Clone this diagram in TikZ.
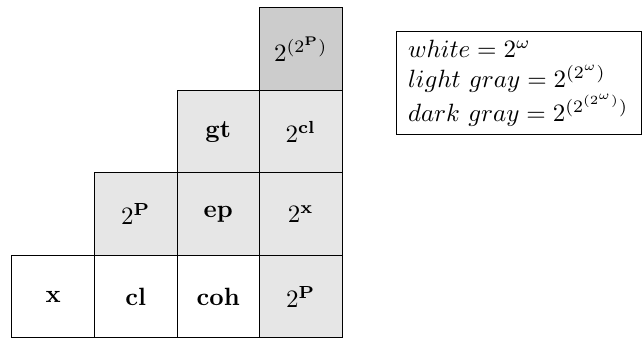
\documentclass[tikz,border=0pt]{standalone}
\usepackage{tikz}
\usetikzlibrary{positioning}
\usepackage{xcolor}
\definecolor{cell-light}{RGB}{230,230,230}
\definecolor{cell-dark}{RGB}{204,204,204}

\begin{document}
\begin{tikzpicture}[
  node distance = 0pt,
  every node/.style = {font=\normalsize},
  % Cell styles
  cell/.style      = {draw, thin, outer sep=0pt, inner sep=0pt,
                      minimum width=33pt, minimum height=33pt, align=center},
  whitecell/.style = {cell, fill=white},
  lightcell/.style = {cell, fill=cell-light},
  darkcell/.style  = {cell, fill=cell-dark},
  legendbox/.style = {draw, thin, align=left,
                      inner xsep=4.6pt, text width=88.8pt,
                      minimum height=41.2pt},
]
\useasboundingbox (-4.8pt,0pt) rectangle (252pt,135.2pt);

% ── Bottom row ─────────────────────────────────────────────────────────────────
\node[whitecell, anchor=south west] (x) at (0pt,0pt) {$\mathbf{x}$};
\node[whitecell, right=of x]   (cl)  {$\mathbf{cl}$};
\node[whitecell, right=of cl]  (coh) {$\mathbf{coh}$};
\node[lightcell, right=of coh] (pbot) {$2^{\mathbf{P}}$};

% ── Second row ─────────────────────────────────────────────────────────────────
\node[lightcell, above=of cl]   (pmid) {$2^{\mathbf{P}}$};
\node[lightcell, above=of coh]  (ep)   {$\mathbf{ep}$};
\node[lightcell, above=of pbot] (px)   {$2^{\mathbf{x}}$};

% ── Third row ──────────────────────────────────────────────────────────────────
\node[lightcell, above=of ep] (gt)  {$\mathbf{gt}$};
\node[lightcell, above=of px] (pcl) {$2^{\mathbf{cl}}$};

% ── Top row ────────────────────────────────────────────────────────────────────
\node[darkcell, above=of pcl] (ppp) {$2^{(2^{\mathbf{P}})}$};

% ── Legend ─────────────────────────────────────────────────────────────────────
\node[legendbox, anchor=north west] (legend) at (153.6pt,122.8pt) {
  $white = 2^{\omega}$\\
  $light\ gray = 2^{(2^{\omega})}$\\
  $dark\ gray = 2^{(2^{(2^{\omega})})}$
};

\end{tikzpicture}
\end{document}
